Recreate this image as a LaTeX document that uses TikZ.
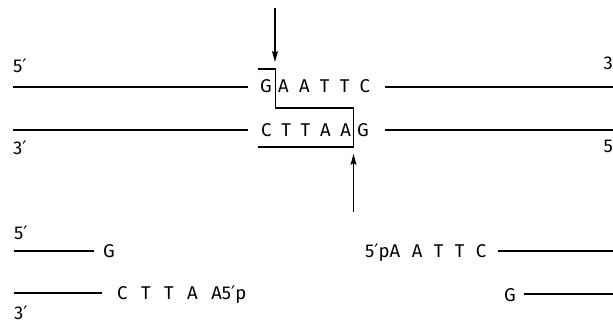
\documentclass[tikz,border=0pt]{standalone}
\usepackage{fontspec}
\setmainfont{Fira Sans}
\newfontfamily\primefont{DejaVu Sans}
\usetikzlibrary{arrows.meta}
\newcommand\pr{{\primefont ′}}
\tikzset{
  base/.style={font=\fontsize{18.5}{20}\selectfont, inner sep=0pt, anchor=base west},
  letterspace/.style={execute at begin node={\spaceskip=#1\relax}},
  strand/.style={line width=1.1pt},
  cutline/.style={line width=1.1pt, line join=miter},
  cutarrow/.style={line width=1.1pt, -{Stealth[length=11pt,width=6pt,inset=2pt]}}
}
\begin{document}
\begin{tikzpicture}[x=1pt,y=-1pt]
  \useasboundingbox (0,0) rectangle (613,323);

  % --- intact duplex with the EcoRI site ---
  \node[base] (p5a) at (13,73) {5\pr};
  \node[base] (p3a) at (13,155) {3\pr};
  \node[base, anchor=base east] (p3b) at (613,70) {3};
  \node[base, anchor=base east] (p5b) at (613,153) {5};

  \node[base] (gtop) at (260,93) {G};
  \node[base, letterspace=10.3pt] (aattc) at (278,93) {A A T T C};
  \node[base, letterspace=9.8pt] (cttaa) at (261,137) {C T T A A};
  \node[base] (gbot) at (357,137) {G};

  \coordinate (tl1) at (13,87);  \coordinate (tl2) at (248,87);
  \coordinate (tr1) at (385,87); \coordinate (tr2) at (613,87);
  \coordinate (bl1) at (13,130); \coordinate (bl2) at (248,130);
  \coordinate (br1) at (385,130);\coordinate (br2) at (613,130);
  \draw[strand] (tl1) -- (tl2);
  \draw[strand] (tr1) -- (tr2);
  \draw[strand] (bl1) -- (bl2);
  \draw[strand] (br1) -- (br2);

  % staggered cut through the site
  \draw[cutline] (258,69) -- (275.5,69) -- (275.5,108) -- (353.5,108) -- (353.5,147) -- (258,147);

  % cleavage arrows
  \coordinate (a1s) at (275,8);   \coordinate (a1e) at (275,62);
  \coordinate (a2s) at (353.5,212); \coordinate (a2e) at (353.5,154);
  \draw[cutarrow] (a1s) -- (a1e);
  \draw[cutarrow] (a2s) -- (a2e);

  % --- fragments after cleavage ---
  \node[base] (f5) at (14,240) {5\pr};
  \node[base] (fg) at (103,257) {G};
  \node[base, letterspace=13.5pt] (fcttaa) at (117,299) {C T T A A5\pr p};
  \node[base] (f3) at (14,319) {3\pr};
  \coordinate (fl1) at (14,251); \coordinate (fl2) at (94,251);
  \coordinate (fl3) at (14,293); \coordinate (fl4) at (102,293);
  \draw[strand] (fl1) -- (fl2);
  \draw[strand] (fl3) -- (fl4);

  \node[base, letterspace=11.5pt] (raattc) at (365,257) {5\pr pA A T T C};
  \node[base] (rg) at (504,301) {G};
  \coordinate (rl1) at (498,251); \coordinate (rl2) at (613,251);
  \coordinate (rl3) at (524,294); \coordinate (rl4) at (613,294);
  \draw[strand] (rl1) -- (rl2);
  \draw[strand] (rl3) -- (rl4);
\end{tikzpicture}
\end{document}
